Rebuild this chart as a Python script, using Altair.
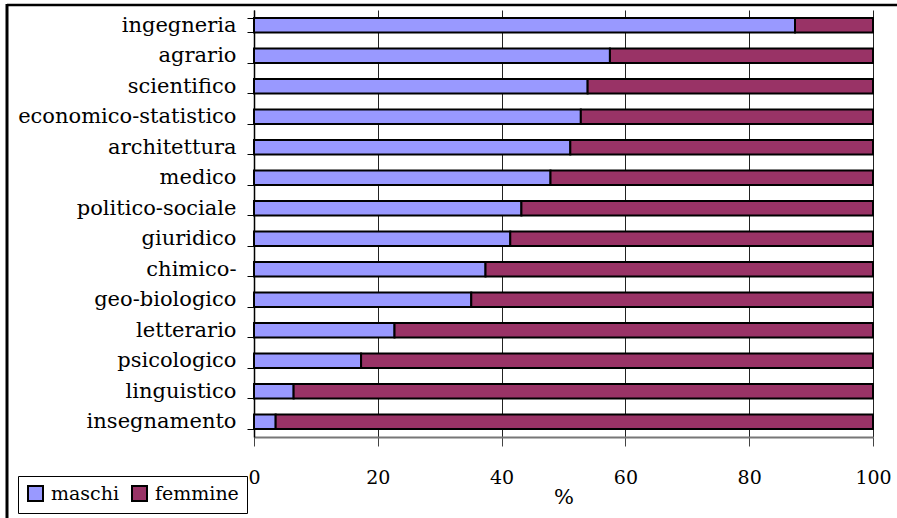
import altair as alt
import pandas as pd

categories = ["ingegneria", "agrario", "scientifico", "economico-statistico",
              "architettura", "medico", "politico-sociale", "giuridico",
              "chimico-", "geo-biologico", "letterario", "psicologico",
              "linguistico", "insegnamento"]
maschi = [87.4, 57.5, 53.9, 52.8, 51.1, 47.9, 43.2, 41.4, 37.4, 35.1, 22.7, 17.3, 6.4, 3.5]
femmine = [12.6, 42.5, 46.1, 47.2, 48.9, 52.1, 56.8, 58.6, 62.6, 64.9, 77.3, 82.7, 93.6, 96.5]
series = ["maschi", "femmine"]
colors = ["#9999FF", "#993366"]
x_ticks = [0, 20, 40, 60, 80, 100]

rows = []
for c, m, f in zip(categories, maschi, femmine):
    rows.append({"cat": c, "sesso": series[0], "val": m, "ord": 0})
    rows.append({"cat": c, "sesso": series[1], "val": f, "ord": 1})
df = pd.DataFrame(rows)

FONT = "DejaVu Serif"

bars = alt.Chart(df).mark_bar(stroke="black", strokeWidth=2).encode(
    y=alt.Y("cat:N", sort=categories,
            scale=alt.Scale(paddingInner=0.53, paddingOuter=0.265),
            axis=alt.Axis(title=None, tickBand="extent", grid=False,
                          domainColor="black", domainWidth=1.5,
                          tickColor="black", tickSize=7, tickWidth=1,
                          labelPadding=11, labelFontSize=21, labelFont=FONT,
                          labelColor="black", labelLimit=400)),
    x=alt.X("val:Q", stack="zero", scale=alt.Scale(domain=[0, 100], nice=False),
            axis=alt.Axis(values=x_ticks, title="%", grid=True,
                          gridColor="#222222", gridWidth=1,
                          domainColor="#777777", domainWidth=2,
                          tickColor="#444444", tickSize=9,
                          labelPadding=22, labelFontSize=19, labelFont=FONT,
                          labelColor="black", labelFlush=False,
                          titleFont=FONT, titleFontSize=21,
                          titleFontWeight="normal", titleY=60,
                          titleBaseline="middle", titleColor="black")),
    color=alt.Color("sesso:N", scale=alt.Scale(domain=series, range=colors),
                    legend=alt.Legend(title=None, orient="none", legendX=-236,
                                      legendY=466, direction="horizontal",
                                      symbolType="square", symbolSize=225,
                                      symbolStrokeColor="black",
                                      symbolStrokeWidth=2, symbolOpacity=1,
                                      labelFontSize=19, labelFont=FONT,
                                      labelColor="black", strokeColor="black",
                                      fillColor="white", padding=8,
                                      columnPadding=8, labelOffset=6)),
    order=alt.Order("ord:Q"),
)

one = pd.DataFrame({"a": [0]})
frame_top = alt.Chart(one).mark_rule(color="black", strokeWidth=2.5).encode(
    x=alt.value(-247), x2=alt.value(650), y=alt.value(-5))
frame_left = alt.Chart(one).mark_rule(color="black", strokeWidth=3).encode(
    x=alt.value(-247), y=alt.value(-6), y2=alt.value(520))

chart = alt.layer(bars, frame_top, frame_left).properties(
    width=619, height=427,
    autosize=alt.AutoSizeParams(type="none"),
    padding={"left": 254, "top": 10, "right": 24, "bottom": 81},
).configure_view(stroke=None)

chart.save("out.html", embed_options={"renderer": "svg", "actions": False})
